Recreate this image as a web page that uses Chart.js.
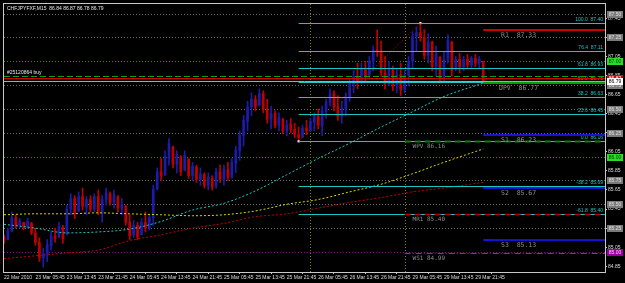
<!DOCTYPE html>
<html>
<head>
<meta charset="UTF-8">
<title>CHFJPY M15</title>
<script src="https://cdn.jsdelivr.net/npm/chart.js@4"></script>
<style>
  html, body { margin: 0; padding: 0; background: #000; overflow: hidden; }
  canvas { display: block; }
</style>
</head>
<body>
<canvas id="chart" width="625" height="283"></canvas>
<script>
// header: symbol + last bar OHLC
const symbol = 'CHFJPYFXF,M15';
const lastBar = [86.84, 86.87, 86.78, 86.79];

// hourly candles, slot 0 = 22 Mar 21:45
const opens = [
  85.16, 85.13, 85.22, 85.36, 85.28, 85.31, 85.26, 85.30, 85.20, 85.10,
  84.94, 84.98, 85.06, 85.17, 85.16, 85.26, 85.19, 85.45, 85.56, 85.43,
  85.58, 85.47, 85.55, 85.45, 85.58, 85.40, 85.55, 85.61, 85.52, 85.58,
  85.46, 85.48, 85.31, 85.18, 85.28, 85.18, 85.31, 85.25, 85.36, 85.66,
  85.84, 85.81, 85.98, 86.10, 85.92, 86.00, 85.86, 85.97, 85.80, 85.89,
  85.76, 85.81, 85.70, 85.77, 85.69, 85.84, 85.76, 85.86, 85.79, 85.93,
  86.06, 86.22, 86.37, 86.52, 86.60, 86.54, 86.66, 86.50, 86.39, 86.45,
  86.33, 86.39, 86.27, 86.34, 86.29, 86.23, 86.20, 86.30, 86.27, 86.36,
  86.42, 86.32, 86.47, 86.57, 86.66, 86.52, 86.42, 86.50, 86.62, 86.76,
  86.84, 86.80, 86.92, 86.85, 87.00, 87.12, 87.10, 86.88, 86.76, 86.92,
  86.74, 86.86, 86.70, 86.85, 87.00, 87.26, 87.30, 87.25, 87.06, 87.20,
  86.95, 87.04, 86.82, 87.02, 87.20, 86.92, 87.02, 86.94, 87.02, 86.96,
  87.03, 86.98, 87.00
];
const highs = [
  85.18, 85.25, 85.42, 85.39, 85.35, 85.31, 85.35, 85.31, 85.25, 85.15,
  85.04, 85.13, 85.21, 85.25, 85.31, 85.28, 85.49, 85.61, 85.59, 85.63,
  85.67, 85.58, 85.59, 85.61, 85.65, 85.59, 85.67, 85.63, 85.65, 85.59,
  85.56, 85.49, 85.39, 85.33, 85.31, 85.35, 85.42, 85.39, 85.70, 85.88,
  85.98, 86.06, 86.19, 86.11, 86.06, 86.01, 86.06, 85.98, 85.94, 85.91,
  85.88, 85.83, 85.83, 85.80, 85.88, 85.91, 85.91, 85.94, 85.98, 86.11,
  86.27, 86.43, 86.58, 86.67, 86.64, 86.71, 86.69, 86.60, 86.53, 86.48,
  86.46, 86.40, 86.38, 86.40, 86.35, 86.31, 86.33, 86.38, 86.40, 86.46,
  86.50, 86.53, 86.60, 86.71, 86.69, 86.64, 86.58, 86.67, 86.81, 86.90,
  86.98, 86.98, 87.00, 87.05, 87.16, 87.33, 87.21, 87.05, 87.00, 86.95,
  86.92, 86.98, 86.90, 87.05, 87.31, 87.36, 87.40, 87.33, 87.29, 87.21,
  87.16, 87.05, 87.10, 87.28, 87.21, 87.05, 87.08, 87.05, 87.07, 87.05,
  87.07, 87.05, 87.00
];
const lows = [
  85.09, 85.13, 85.21, 85.25, 85.25, 85.23, 85.25, 85.18, 85.07, 84.90,
  84.84, 84.90, 85.02, 85.10, 85.15, 85.09, 85.18, 85.39, 85.35, 85.42,
  85.44, 85.39, 85.42, 85.42, 85.39, 85.31, 85.49, 85.49, 85.46, 85.42,
  85.39, 85.28, 85.13, 85.15, 85.13, 85.18, 85.21, 85.23, 85.28, 85.65,
  85.75, 85.80, 85.91, 85.88, 85.83, 85.80, 85.85, 85.77, 85.75, 85.73,
  85.70, 85.67, 85.65, 85.65, 85.67, 85.73, 85.70, 85.75, 85.77, 85.83,
  85.96, 86.11, 86.27, 86.43, 86.48, 86.53, 86.46, 86.35, 86.29, 86.30,
  86.27, 86.24, 86.22, 86.25, 86.20, 86.16, 86.20, 86.23, 86.26, 86.27,
  86.29, 86.22, 86.40, 86.53, 86.48, 86.38, 86.35, 86.43, 86.58, 86.67,
  86.71, 86.77, 86.79, 86.81, 86.90, 87.05, 86.84, 86.71, 86.74, 86.69,
  86.67, 86.64, 86.67, 86.74, 86.92, 87.10, 87.21, 87.02, 86.98, 86.90,
  86.84, 86.77, 86.79, 86.98, 86.84, 86.90, 86.88, 86.90, 86.92, 86.92,
  86.94, 86.92, 86.77
];
const closes = [
  85.12, 85.22, 85.36, 85.28, 85.33, 85.25, 85.32, 85.20, 85.10, 84.94,
  84.98, 85.08, 85.17, 85.14, 85.27, 85.14, 85.45, 85.56, 85.40, 85.58,
  85.48, 85.55, 85.45, 85.58, 85.42, 85.55, 85.62, 85.52, 85.60, 85.46,
  85.50, 85.31, 85.17, 85.28, 85.16, 85.31, 85.25, 85.36, 85.66, 85.84,
  85.80, 86.00, 86.14, 85.92, 86.02, 85.84, 86.01, 85.80, 85.90, 85.76,
  85.82, 85.70, 85.78, 85.68, 85.84, 85.76, 85.87, 85.79, 85.94, 86.07,
  86.22, 86.38, 86.52, 86.60, 86.52, 86.66, 86.50, 86.39, 86.45, 86.33,
  86.41, 86.27, 86.33, 86.28, 86.23, 86.20, 86.30, 86.27, 86.37, 86.42,
  86.33, 86.48, 86.57, 86.66, 86.52, 86.42, 86.50, 86.62, 86.76, 86.84,
  86.80, 86.92, 86.85, 87.00, 87.12, 87.10, 86.88, 86.76, 86.92, 86.74,
  86.86, 86.70, 86.85, 87.00, 87.26, 87.30, 87.25, 87.06, 87.20, 86.95,
  87.08, 86.82, 87.02, 87.22, 86.90, 87.02, 86.94, 87.02, 86.96, 87.03,
  86.98, 87.02, 86.79
];

// time axis
const lastSlot = 153;
const labelSlots = [0, 8, 16, 24, 32, 40, 48, 56, 64, 72, 80, 88, 96, 104, 112, 120];
const timeLabels = [
  '22 Mar 2010', '23 Mar 05:45', '23 Mar 13:45', '23 Mar 21:45',
  '24 Mar 05:45', '24 Mar 13:45', '24 Mar 21:45', '25 Mar 05:45',
  '25 Mar 13:45', '25 Mar 21:45', '26 Mar 05:45', '26 Mar 13:45',
  '26 Mar 21:45', '29 Mar 05:45', '29 Mar 13:45', '29 Mar 21:45'
];
const separatorSlots = [78, 102];

// price axis
const priceTicks = [84.85, 85.05, 85.25, 85.45, 85.65, 85.85, 86.05, 86.25, 86.45, 86.65, 86.85, 87.05, 87.25, 87.45];
const roundLevels = [87.50, 87.25, 87.00, 86.75, 86.50, 86.25, 86.00, 85.75, 85.50, 85.25, 85.00];

// moving averages
const maSlots = [0, 8, 16, 24, 32, 40, 48, 56, 64, 72, 80, 88, 96, 104, 112, 122];
const maCyan = [85.29, 85.25, 85.20, 85.21, 85.24, 85.32, 85.44, 85.51, 85.64, 85.81, 85.98, 86.14, 86.31, 86.47, 86.63, 86.77];
const maYellow = [85.39, 85.40, 85.40, 85.41, 85.40, 85.39, 85.38, 85.39, 85.43, 85.50, 85.55, 85.63, 85.71, 85.82, 85.94, 86.08];
const maRed = [84.93, 84.96, 84.99, 85.02, 85.12, 85.18, 85.25, 85.30, 85.37, 85.40, 85.46, 85.52, 85.57, 85.63, 85.67, 85.73];

// fibonacci retracement
const fibAnchorSlots = [75, 106];
const fibAnchorPrices = [86.16, 87.40];
const fibRatios = [100.0, 76.4, 61.8, 50.0, 38.2, 23.6, 0.0, -38.2, -61.8];
const fibPrices = [87.40, 87.11, 86.93, 86.78, 86.63, 86.45, 86.16, 85.69, 85.40];

// daily pivots (from last bar) and weekly pivots (from week start)
const pivotStartSlot = 122;
const pivotNames = ['R1', 'DPV', 'S1', 'S2', 'S3'];
const pivotValues = [87.33, 86.77, 86.23, 85.67, 85.13];
const weeklyStartSlot = 102;
const weeklyNames = ['WPV', 'MR1', 'WS1'];
const weeklyValues = [86.16, 85.40, 84.99];

// open order and quotes
const orderLabel = '#25120864 buy';
const orderPrice = 86.84;
const askPrice = 86.82;
const bidPrice = 86.79;

const BLUE = '#1c1cac';
const RED = '#c00000';
const slots = opens.map((_, i) => i);
const candleColors = slots.map(i => closes[i] >= opens[i] ? BLUE : RED);
const FONT = 'Liberation Sans';
const MONO = 'DejaVu Sans Mono';

function hline(ctx, x0, x1, y, color, width, dash) {
    ctx.save();
    ctx.strokeStyle = color;
    ctx.lineWidth = width;
    ctx.setLineDash(dash || []);
    ctx.beginPath();
    ctx.moveTo(x0, y);
    ctx.lineTo(x1, y);
    ctx.stroke();
    ctx.restore();
}

function roundColor(v) {
    if (v === 85) return '#8c008c';
    if (Number.isInteger(v)) return '#2f8f2f';
    return '#6c6c6c';
}

const overlay = {
    id: 'overlay',
    beforeDatasetsDraw(chart) {
        const { ctx, chartArea: a, scales: { x, y } } = chart;
        roundLevels.forEach(v => {
            const py = Math.round(y.getPixelForValue(v)) + 0.5;
            hline(ctx, a.left, a.right, py, roundColor(v), 1, [1, 2]);
        });
        separatorSlots.forEach(s => {
            const px = Math.round(x.getPixelForValue(s)) + 0.5;
            ctx.save();
            ctx.strokeStyle = '#808000';
            ctx.setLineDash([1, 2]);
            ctx.beginPath();
            ctx.moveTo(px, a.top);
            ctx.lineTo(px, a.bottom);
            ctx.stroke();
            ctx.restore();
        });
    },
    afterDatasetsDraw(chart) {
        const { ctx, chartArea: a, scales: { x, y } } = chart;
        const yp = v => Math.round(y.getPixelForValue(v)) + 0.5;

        // fibo levels
        const fx = x.getPixelForValue(fibAnchorSlots[0]);
        ctx.save();
        ctx.font = '5px "' + FONT + '"';
        ctx.textAlign = 'right';
        ctx.textBaseline = 'bottom';
        fibPrices.forEach((p, i) => {
            const py = yp(p);
            hline(ctx, fx, a.right, py, '#1cc4c4', 1);
            ctx.fillStyle = '#1cc4c4';
            ctx.fillText(fibRatios[i].toFixed(1) + '  ' + p.toFixed(2), a.right - 2, py - 1);
        });
        ctx.restore();

        // weekly pivots
        const wx = x.getPixelForValue(weeklyStartSlot);
        const wStyle = [['#0b7a0b', 2, [6, 4]], ['#c00000', 1.5, [6, 4]], ['#4a3cff', 1, [6, 2, 1, 2]]];
        weeklyValues.forEach((v, i) => {
            const py = yp(v);
            hline(ctx, wx, a.right, py, wStyle[i][0], wStyle[i][1], wStyle[i][2]);
            ctx.save();
            ctx.font = '6px "' + MONO + '"';
            ctx.fillStyle = '#8c8c8c';
            ctx.textBaseline = 'top';
            ctx.fillText(weeklyNames[i] + ' ' + v.toFixed(2), x.getPixelForValue(weeklyStartSlot + 2), py + 2);
            ctx.restore();
        });

        // daily pivots
        const px0 = x.getPixelForValue(pivotStartSlot);
        const pColors = ['#c80000', '#00a000', '#1414d0', '#1414d0', '#1414d0'];
        pivotValues.forEach((v, i) => {
            const py = Math.round(y.getPixelForValue(v));
            hline(ctx, px0, a.right, py, pColors[i], 2);
            ctx.save();
            ctx.font = '6.5px "' + MONO + '"';
            ctx.fillStyle = '#8c8c8c';
            ctx.textAlign = 'center';
            ctx.textBaseline = 'top';
            ctx.fillText(pivotNames[i] + '  ' + v.toFixed(2), x.getPixelForValue(pivotStartSlot + 9), py + 2);
            ctx.restore();
        });

        // order, ask and bid lines
        hline(ctx, a.left, a.right, yp(orderPrice), '#10a010', 1, [6, 3]);
        hline(ctx, a.left, a.right, yp(askPrice), '#d00000', 1);
        hline(ctx, a.left, a.right, yp(bidPrice), '#a8a8a8', 1);

        ctx.save();
        ctx.font = '5px "' + FONT + '"';
        ctx.fillStyle = '#e8e8e8';
        ctx.textBaseline = 'bottom';
        ctx.fillText(orderLabel, a.left + 3, yp(orderPrice) - 1);
        ctx.textBaseline = 'top';
        ctx.fillText(symbol + '  ' + lastBar.map(v => v.toFixed(2)).join(' '), a.left + 3, a.top + 2);
        ctx.restore();
    },
    afterDraw(chart) {
        const { ctx, chartArea: a, scales: { y } } = chart;
        ctx.save();
        ctx.strokeStyle = '#c8c8c8';
        ctx.lineWidth = 1;
        ctx.strokeRect(a.left - 0.5, a.top - 0.5, a.right - a.left + 1, a.bottom - a.top + 1);

        const box = (v, bg, fg) => {
            const py = y.getPixelForValue(v);
            ctx.fillStyle = bg;
            ctx.fillRect(a.right + 2, Math.round(py) - 3, 16, 7);
            ctx.fillStyle = fg;
            ctx.font = '5px "' + FONT + '"';
            ctx.textAlign = 'center';
            ctx.textBaseline = 'middle';
            ctx.fillText(v.toFixed(2), a.right + 10, Math.round(py) + 0.5);
        };
        roundLevels.forEach(v => {
            if (v === 85) box(v, '#9a009a', '#ffc8ff');
            else if (Number.isInteger(v)) box(v, '#28dc28', '#004400');
            else box(v, '#7a7a7a', '#e0e0e0');
        });
        box(askPrice, '#dc0000', '#ffffff');
        box(bidPrice, '#ffffff', '#000000');
        ctx.restore();
    }
};

function maData(vals) {
    return maSlots.map((s, i) => ({ x: s, y: vals[i] }));
}

const lineBase = { type: 'line', pointRadius: 0, borderWidth: 1, borderDash: [2, 2], cubicInterpolationMode: 'monotone', order: 1 };

new Chart(document.getElementById('chart'), {
    type: 'bar',
    data: {
        datasets: [
            {
                label: 'wick',
                data: slots.map(i => ({ x: i, y: [lows[i], highs[i]] })),
                backgroundColor: candleColors,
                barThickness: 1,
                grouped: false,
                order: 6
            },
            {
                label: 'body',
                data: slots.map(i => ({ x: i, y: [opens[i], closes[i]] })),
                backgroundColor: candleColors,
                barThickness: 2,
                grouped: false,
                order: 5
            },
            Object.assign({ label: 'MA cyan', data: maData(maCyan), borderColor: '#18c8c8' }, lineBase),
            Object.assign({ label: 'MA yellow', data: maData(maYellow), borderColor: '#d8d800' }, lineBase),
            Object.assign({ label: 'MA red', data: maData(maRed), borderColor: '#c00000' }, lineBase),
            {
                type: 'line',
                label: 'fibo trend',
                data: fibAnchorSlots.map((s, i) => ({ x: s, y: fibAnchorPrices[i] })),
                borderColor: '#c00000',
                borderWidth: 1,
                borderDash: [1, 2],
                pointStyle: 'rect',
                pointRadius: 1.5,
                pointBorderWidth: 0,
                pointBackgroundColor: '#ffffff',
                order: 0
            }
        ]
    },
    options: {
        responsive: false,
        animation: false,
        devicePixelRatio: 1,
        layout: { padding: { left: 2, top: 2, right: 0, bottom: 0 } },
        plugins: { legend: { display: false }, tooltip: { enabled: false } },
        scales: {
            x: {
                type: 'linear',
                min: 0,
                max: lastSlot,
                offset: false,
                afterBuildTicks: s => { s.ticks = labelSlots.map(v => ({ value: v })); },
                afterFit: s => { s.height = 11; },
                ticks: {
                    autoSkip: false,
                    maxRotation: 0,
                    minRotation: 0,
                    align: 'start',
                    padding: 1,
                    color: '#dcdcdc',
                    font: { family: FONT, size: 5 },
                    callback: v => timeLabels[labelSlots.indexOf(v)]
                },
                grid: { display: true, drawOnChartArea: false, drawTicks: true, tickLength: 2, color: '#c8c8c8' },
                border: { display: false }
            },
            y: {
                position: 'right',
                min: 84.79,
                max: 87.60,
                afterBuildTicks: s => { s.ticks = priceTicks.map(v => ({ value: v })); },
                afterFit: s => { s.width = 20; },
                ticks: {
                    padding: 1,
                    color: '#dcdcdc',
                    font: { family: FONT, size: 5 },
                    callback: v => v.toFixed(2)
                },
                grid: { display: true, drawOnChartArea: false, drawTicks: true, tickLength: 2, color: '#c8c8c8' },
                border: { display: false }
            }
        }
    },
    plugins: [overlay]
});
</script>
</body>
</html>
